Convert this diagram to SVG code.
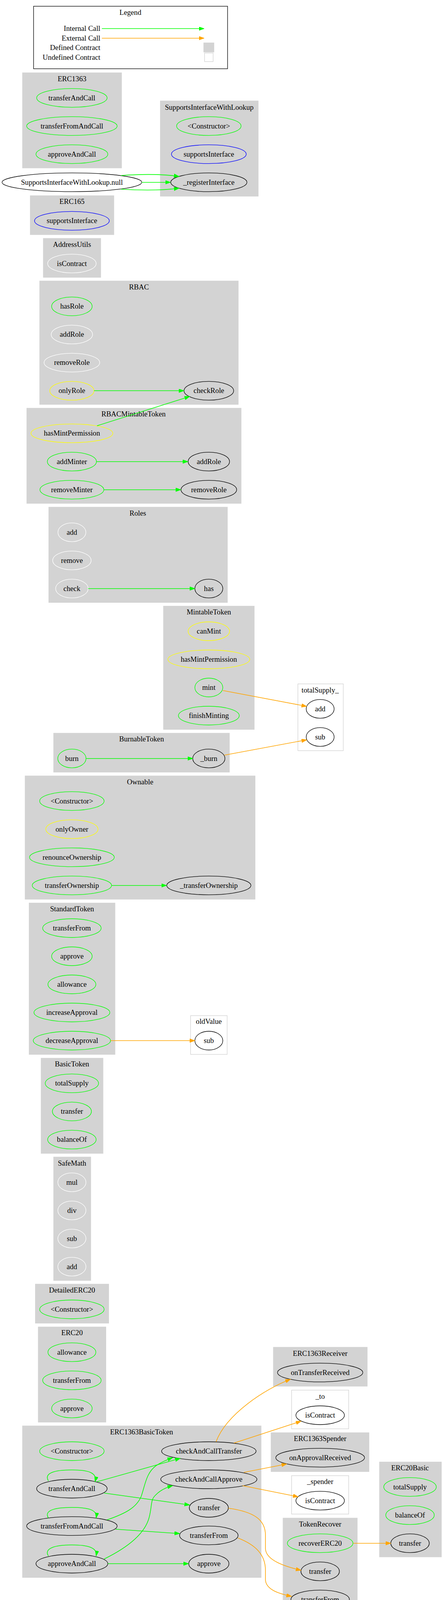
<svg xmlns="http://www.w3.org/2000/svg" width="1140" height="4615" viewBox="0 0 1140 4615">
<style>
text{font-family:"Liberation Serif","Times New Roman",serif;font-size:18.67px;text-anchor:middle;fill:#000}
.lt{text-anchor:end}
.cl{fill:#d3d3d3;stroke:#d3d3d3;stroke-width:1.33}
.ud{fill:#fff;stroke:#d3d3d3;stroke-width:1.33}
ellipse{fill:none;stroke-width:1.33}
.g{stroke:#00ff00}.y{stroke:#ffff00}.b{stroke:#0000ff}.w{stroke:#fff}.k{stroke:#000}
.eg{fill:none;stroke:#00ff00;stroke-width:1.6;marker-end:url(#ag)}
.eo{fill:none;stroke:#ffa500;stroke-width:1.6;marker-end:url(#ao)}
</style>
<defs>
<marker id="ag" markerUnits="userSpaceOnUse" viewBox="0 0 14 10" markerWidth="14" markerHeight="10" refX="13.3" refY="4.67" orient="auto"><path d="M0,0 L13.3,4.67 L0,9.33 z" fill="#00ff00" stroke="#00ff00"/></marker>
<marker id="ao" markerUnits="userSpaceOnUse" viewBox="0 0 14 10" markerWidth="14" markerHeight="10" refX="13.3" refY="4.67" orient="auto"><path d="M0,0 L13.3,4.67 L0,9.33 z" fill="#ffa500" stroke="#ffa500"/></marker>
</defs>
<rect width="1140" height="4615" fill="#fff"/>

<g id="legend">
<rect x="86" y="16" width="497" height="160" fill="#fff" stroke="#000" stroke-width="1.33"/>
<text x="334" y="37.7">Legend</text>
<text class="lt" x="257" y="79.3">Internal Call</text>
<text class="lt" x="257" y="103.7">External Call</text>
<text class="lt" x="257" y="128.3">Defined Contract</text>
<text class="lt" x="257" y="152.7">Undefined Contract</text>
<line x1="261" y1="73.3" x2="523" y2="73.3" class="eg"/>
<line x1="261" y1="97.7" x2="523" y2="97.7" class="eo"/>
<rect x="522" y="109.7" width="26" height="23.6" class="cl"/>
<rect x="524" y="135.7" width="22" height="22" class="ud"/>
</g>

<g id="cluster_ERC1363">
<rect x="57.7" y="186.3" width="253.7" height="243.7" class="cl"/>
<text x="184.5" y="207.7">ERC1363</text>
<g id="ERC1363_transferAndCall"><ellipse cx="184.2" cy="250.7" rx="90.3" ry="24" class="g"/><text x="184.2" y="256.7">transferAndCall</text></g>
<g id="ERC1363_transferFromAndCall"><ellipse cx="184.2" cy="322.7" rx="115.9" ry="24" class="g"/><text x="184.2" y="328.7">transferFromAndCall</text></g>
<g id="ERC1363_approveAndCall"><ellipse cx="184.2" cy="394.7" rx="92" ry="24" class="g"/><text x="184.2" y="400.7">approveAndCall</text></g>
</g>

<g id="cluster_SupportsInterfaceWithLookup">
<rect x="410.8" y="258.3" width="250.7" height="244" class="cl"/>
<text x="536" y="281">SupportsInterfaceWithLookup</text>
<g id="SupportsInterfaceWithLookup_Constructor"><ellipse cx="535" cy="322.7" rx="82.6" ry="24" class="g"/><text x="535" y="328.7">&lt;Constructor&gt;</text></g>
<g id="SupportsInterfaceWithLookup_supportsInterface"><ellipse cx="535" cy="394.7" rx="95.8" ry="24" class="b"/><text x="535" y="400.7">supportsInterface</text></g>
<g id="SupportsInterfaceWithLookup_registerInterface"><ellipse cx="535" cy="466.7" rx="97.6" ry="24" class="k"/><text x="535" y="472.7">_registerInterface</text></g>
</g>

<g id="SupportsInterfaceWithLookup_null"><ellipse cx="184.2" cy="466.7" rx="179" ry="24" class="k"/><text x="184.2" y="472.7">SupportsInterfaceWithLookup.null</text></g>

<g id="cluster_ERC165">
<rect x="77.5" y="501" width="214.2" height="99.7" class="cl"/>
<text x="184.5" y="522">ERC165</text>
<g id="ERC165_supportsInterface"><ellipse cx="184.2" cy="565.3" rx="95.8" ry="24" class="b"/><text x="184.2" y="571.3">supportsInterface</text></g>
</g>

<g id="cluster_AddressUtils">
<rect x="111" y="610.3" width="147" height="99.7" class="cl"/>
<text x="184.5" y="632.3">AddressUtils</text>
<g id="AddressUtils_isContract"><ellipse cx="184.2" cy="674.7" rx="62.1" ry="24" class="w"/><text x="184.2" y="680.7">isContract</text></g>
</g>

<g id="cluster_RBAC">
<rect x="101.6" y="719.3" width="508.8" height="316" class="cl"/>
<text x="356" y="741">RBAC</text>
<g id="RBAC_hasRole"><ellipse cx="184.2" cy="784.3" rx="51.9" ry="24" class="g"/><text x="184.2" y="790.3">hasRole</text></g>
<g id="RBAC_addRole"><ellipse cx="184.2" cy="856.3" rx="53" ry="24" class="w"/><text x="184.2" y="862.3">addRole</text></g>
<g id="RBAC_removeRole"><ellipse cx="184.2" cy="928.3" rx="71.3" ry="24" class="w"/><text x="184.2" y="934.3">removeRole</text></g>
<g id="RBAC_onlyRole"><ellipse cx="184.2" cy="1000.3" rx="56.7" ry="24" class="y"/><text x="184.2" y="1006.3">onlyRole</text></g>
<g id="RBAC_checkRole"><ellipse cx="535" cy="1000.3" rx="63.6" ry="24" class="k"/><text x="535" y="1006.3">checkRole</text></g>
</g>

<g id="cluster_RBACMintableToken">
<rect x="68.7" y="1045" width="549" height="243.7" class="cl"/>
<text x="342" y="1066">RBACMintableToken</text>
<g id="RBACMintableToken_hasMintPermission"><ellipse cx="184.2" cy="1109.3" rx="104.9" ry="24" class="y"/><text x="184.2" y="1115.3">hasMintPermission</text></g>
<g id="RBACMintableToken_addMinter"><ellipse cx="184.2" cy="1181.7" rx="62.9" ry="24" class="g"/><text x="184.2" y="1187.7">addMinter</text></g>
<g id="RBACMintableToken_addRole"><ellipse cx="535" cy="1181.7" rx="53" ry="24" class="k"/><text x="535" y="1187.7">addRole</text></g>
<g id="RBACMintableToken_removeMinter"><ellipse cx="184.2" cy="1253.7" rx="81.9" ry="24" class="g"/><text x="184.2" y="1259.7">removeMinter</text></g>
<g id="RBACMintableToken_removeRole"><ellipse cx="535" cy="1253.7" rx="71.3" ry="24" class="k"/><text x="535" y="1259.7">removeRole</text></g>
</g>

<g id="cluster_Roles">
<rect x="125" y="1298.3" width="457.6" height="244" class="cl"/>
<text x="353" y="1320.3">Roles</text>
<g id="Roles_add"><ellipse cx="184.2" cy="1362.7" rx="35.8" ry="24" class="w"/><text x="184.2" y="1368.7">add</text></g>
<g id="Roles_remove"><ellipse cx="184.2" cy="1434.7" rx="49.3" ry="24" class="w"/><text x="184.2" y="1440.7">remove</text></g>
<g id="Roles_check"><ellipse cx="184.2" cy="1506.7" rx="41.7" ry="24" class="w"/><text x="184.2" y="1512.7">check</text></g>
<g id="Roles_has"><ellipse cx="535" cy="1506.7" rx="35.8" ry="24" class="k"/><text x="535" y="1512.7">has</text></g>
</g>

<g id="cluster_MintableToken">
<rect x="418.9" y="1551.7" width="232.4" height="315.6" class="cl"/>
<text x="535" y="1573.3">MintableToken</text>
<g id="MintableToken_canMint"><ellipse cx="535" cy="1616" rx="53" ry="24" class="y"/><text x="535" y="1622">canMint</text></g>
<g id="MintableToken_hasMintPermission"><ellipse cx="535" cy="1688" rx="104.9" ry="24" class="y"/><text x="535" y="1694">hasMintPermission</text></g>
<g id="MintableToken_mint"><ellipse cx="535" cy="1760" rx="35.8" ry="24" class="g"/><text x="535" y="1766">mint</text></g>
<g id="MintableToken_finishMinting"><ellipse cx="535" cy="1832" rx="77.9" ry="24" class="g"/><text x="535" y="1838">finishMinting</text></g>
</g>

<g id="cluster_totalSupply_">
<rect x="763.2" y="1750.7" width="116.2" height="171" class="ud"/>
<text x="820.2" y="1773.3">totalSupply_</text>
<g id="totalSupply__add"><ellipse cx="820.2" cy="1814.7" rx="35.8" ry="24" class="k"/><text x="820.2" y="1820.7">add</text></g>
<g id="totalSupply__sub"><ellipse cx="820.2" cy="1886.7" rx="35.8" ry="24" class="k"/><text x="820.2" y="1892.7">sub</text></g>
</g>

<g id="cluster_BurnableToken">
<rect x="137.4" y="1877" width="450.3" height="99.7" class="cl"/>
<text x="362.6" y="1898.3">BurnableToken</text>
<g id="BurnableToken_burn"><ellipse cx="184.2" cy="1941.7" rx="36.2" ry="24" class="g"/><text x="184.2" y="1947.7">burn</text></g>
<g id="BurnableToken__burn"><ellipse cx="535" cy="1941.7" rx="41.3" ry="24" class="k"/><text x="535" y="1947.7">_burn</text></g>
</g>

<g id="cluster_Ownable">
<rect x="64.3" y="1986.3" width="589.2" height="315.7" class="cl"/>
<text x="359" y="2008.3">Ownable</text>
<g id="Ownable_Constructor"><ellipse cx="184.2" cy="2050.7" rx="82.6" ry="24" class="g"/><text x="184.2" y="2056.7">&lt;Constructor&gt;</text></g>
<g id="Ownable_onlyOwner"><ellipse cx="184.2" cy="2122.7" rx="66.9" ry="24" class="y"/><text x="184.2" y="2128.7">onlyOwner</text></g>
<g id="Ownable_renounceOwnership"><ellipse cx="184.2" cy="2194.7" rx="108.6" ry="24" class="g"/><text x="184.2" y="2200.7">renounceOwnership</text></g>
<g id="Ownable_transferOwnership"><ellipse cx="184.2" cy="2266.7" rx="101.6" ry="24" class="g"/><text x="184.2" y="2272.7">transferOwnership</text></g>
<g id="Ownable__transferOwnership"><ellipse cx="535" cy="2266.7" rx="107.8" ry="24" class="k"/><text x="535" y="2272.7">_transferOwnership</text></g>
</g>

<g id="cluster_StandardToken">
<rect x="74.6" y="2311.7" width="220" height="387.6" class="cl"/>
<text x="184.5" y="2333.3">StandardToken</text>
<g id="StandardToken_transferFrom"><ellipse cx="184.2" cy="2376" rx="74.9" ry="24" class="g"/><text x="184.2" y="2382">transferFrom</text></g>
<g id="StandardToken_approve"><ellipse cx="184.2" cy="2448" rx="51.9" ry="24" class="g"/><text x="184.2" y="2454">approve</text></g>
<g id="StandardToken_allowance"><ellipse cx="184.2" cy="2520" rx="61.4" ry="24" class="g"/><text x="184.2" y="2526">allowance</text></g>
<g id="StandardToken_increaseApproval"><ellipse cx="184.2" cy="2592" rx="97.2" ry="24" class="g"/><text x="184.2" y="2598">increaseApproval</text></g>
<g id="StandardToken_decreaseApproval"><ellipse cx="184.2" cy="2664" rx="99" ry="24" class="g"/><text x="184.2" y="2670">decreaseApproval</text></g>
</g>

<g id="cluster_oldValue">
<rect x="488.3" y="2600" width="93.6" height="99.3" class="ud"/>
<text x="535" y="2621">oldValue</text>
<g id="oldValue_sub"><ellipse cx="535" cy="2664" rx="35.8" ry="24" class="k"/><text x="535" y="2670">sub</text></g>
</g>

<g id="cluster_BasicToken">
<rect x="105.3" y="2709" width="158.6" height="243.7" class="cl"/>
<text x="184.5" y="2730.3">BasicToken</text>
<g id="BasicToken_totalSupply"><ellipse cx="184.2" cy="2773.3" rx="68.3" ry="24" class="g"/><text x="184.2" y="2779.3">totalSupply</text></g>
<g id="BasicToken_transfer"><ellipse cx="184.2" cy="2845.3" rx="50" ry="24" class="g"/><text x="184.2" y="2851.3">transfer</text></g>
<g id="BasicToken_balanceOf"><ellipse cx="184.2" cy="2917.3" rx="62.1" ry="24" class="g"/><text x="184.2" y="2923.3">balanceOf</text></g>
</g>

<g id="cluster_SafeMath">
<rect x="137.4" y="2962" width="95.1" height="316" class="cl"/>
<text x="184.5" y="2983.7">SafeMath</text>
<g id="SafeMath_mul"><ellipse cx="184.2" cy="3026.7" rx="36" ry="24" class="w"/><text x="184.2" y="3032.7">mul</text></g>
<g id="SafeMath_div"><ellipse cx="184.2" cy="3098.7" rx="36" ry="24" class="w"/><text x="184.2" y="3104.7">div</text></g>
<g id="SafeMath_sub"><ellipse cx="184.2" cy="3170.7" rx="36" ry="24" class="w"/><text x="184.2" y="3176.7">sub</text></g>
<g id="SafeMath_add"><ellipse cx="184.2" cy="3242.7" rx="36" ry="24" class="w"/><text x="184.2" y="3248.7">add</text></g>
</g>

<g id="cluster_DetailedERC20">
<rect x="90.6" y="3287.3" width="187.9" height="100" class="cl"/>
<text x="184.5" y="3308.7">DetailedERC20</text>
<g id="DetailedERC20_Constructor"><ellipse cx="184.2" cy="3352" rx="82.6" ry="24" class="g"/><text x="184.2" y="3358">&lt;Constructor&gt;</text></g>
</g>

<g id="cluster_ERC20">
<rect x="98" y="3397" width="173.2" height="243.7" class="cl"/>
<text x="184.5" y="3417.7">ERC20</text>
<g id="ERC20_allowance"><ellipse cx="184.2" cy="3461.7" rx="61.4" ry="24" class="g"/><text x="184.2" y="3467.7">allowance</text></g>
<g id="ERC20_transferFrom"><ellipse cx="184.2" cy="3533.7" rx="74.9" ry="24" class="g"/><text x="184.2" y="3539.7">transferFrom</text></g>
<g id="ERC20_approve"><ellipse cx="184.2" cy="3605.7" rx="51.9" ry="24" class="g"/><text x="184.2" y="3611.7">approve</text></g>
</g>

<g id="cluster_ERC1363Receiver">
<rect x="700.3" y="3449" width="240.5" height="99.7" class="cl"/>
<text x="820.2" y="3471">ERC1363Receiver</text>
<g id="ERC1363Receiver_onTransferReceived"><ellipse cx="820.2" cy="3513.7" rx="109.3" ry="24" class="k"/><text x="820.2" y="3519.7">onTransferReceived</text></g>
</g>

<g id="cluster__to">
<rect x="747" y="3558.7" width="146.3" height="99" class="ud"/>
<text x="820.2" y="3581">_to</text>
<g id="_to_isContract"><ellipse cx="820.2" cy="3623" rx="62.1" ry="24" class="k"/><text x="820.2" y="3629">isContract</text></g>
</g>

<g id="cluster_ERC1363BasicToken">
<rect x="57.7" y="3650.3" width="611.2" height="388" class="cl"/>
<text x="362.6" y="3672.3">ERC1363BasicToken</text>
<g id="ERC1363BasicToken_Constructor"><ellipse cx="184.2" cy="3715" rx="82.6" ry="24" class="g"/><text x="184.2" y="3721">&lt;Constructor&gt;</text></g>
<g id="ERC1363BasicToken_checkAndCallTransfer"><ellipse cx="535" cy="3715" rx="121" ry="24" class="k"/><text x="535" y="3721">checkAndCallTransfer</text></g>
<g id="ERC1363BasicToken_transferAndCall"><ellipse cx="184.2" cy="3811" rx="90.3" ry="24" class="k"/><text x="184.2" y="3817">transferAndCall</text></g>
<g id="ERC1363BasicToken_checkAndCallApprove"><ellipse cx="535" cy="3787" rx="123.2" ry="24" class="k"/><text x="535" y="3793">checkAndCallApprove</text></g>
<g id="ERC1363BasicToken_transfer"><ellipse cx="535" cy="3860" rx="50" ry="24" class="k"/><text x="535" y="3866">transfer</text></g>
<g id="ERC1363BasicToken_transferFromAndCall"><ellipse cx="184.2" cy="3906.7" rx="115.9" ry="24" class="k"/><text x="184.2" y="3912.7">transferFromAndCall</text></g>
<g id="ERC1363BasicToken_transferFrom"><ellipse cx="535" cy="3930.7" rx="74.9" ry="24" class="k"/><text x="535" y="3936.7">transferFrom</text></g>
<g id="ERC1363BasicToken_approveAndCall"><ellipse cx="184.2" cy="4003" rx="92" ry="24" class="k"/><text x="184.2" y="4009">approveAndCall</text></g>
<g id="ERC1363BasicToken_approve"><ellipse cx="535" cy="4003" rx="51.5" ry="24" class="k"/><text x="535" y="4009">approve</text></g>
</g>

<g id="cluster_ERC1363Spender">
<rect x="694.4" y="3667.7" width="250.8" height="99.6" class="cl"/>
<text x="820.2" y="3689.3">ERC1363Spender</text>
<g id="ERC1363Spender_onApprovalReceived"><ellipse cx="820.2" cy="3731.7" rx="113.7" ry="24" class="k"/><text x="820.2" y="3737.7">onApprovalReceived</text></g>
</g>

<g id="cluster__spender">
<rect x="747" y="3777.7" width="146.3" height="98.3" class="ud"/>
<text x="820.2" y="3799.3">_spender</text>
<g id="_spender_isContract"><ellipse cx="820.2" cy="3841.7" rx="62.1" ry="24" class="k"/><text x="820.2" y="3847.7">isContract</text></g>
</g>

<g id="cluster_ERC20Basic">
<rect x="972.2" y="3742.7" width="158.6" height="243" class="cl"/>
<text x="1050.4" y="3764.3">ERC20Basic</text>
<g id="ERC20Basic_totalSupply"><ellipse cx="1050.4" cy="3806.7" rx="67.3" ry="24" class="g"/><text x="1050.4" y="3812.7">totalSupply</text></g>
<g id="ERC20Basic_balanceOf"><ellipse cx="1050.4" cy="3878.7" rx="62.1" ry="24" class="g"/><text x="1050.4" y="3884.7">balanceOf</text></g>
<g id="ERC20Basic_transfer"><ellipse cx="1050.4" cy="3950.7" rx="49.3" ry="24" class="k"/><text x="1050.4" y="3956.7">transfer</text></g>
</g>

<g id="cluster_TokenRecover">
<rect x="725.1" y="3886.3" width="190.1" height="315.4" class="cl"/>
<text x="820.2" y="3908.3">TokenRecover</text>
<g id="TokenRecover_recoverERC20"><ellipse cx="820.2" cy="3950.7" rx="84" ry="24" class="g"/><text x="820.2" y="3956.7">recoverERC20</text></g>
<g id="TokenRecover_transfer"><ellipse cx="820.2" cy="4022.7" rx="49.3" ry="24" class="k"/><text x="820.2" y="4028.7">transfer</text></g>
<g id="TokenRecover_transferFrom"><ellipse cx="820.2" cy="4094.7" rx="74.9" ry="24" class="k"/><text x="820.2" y="4100.7">transferFrom</text></g>
<g id="TokenRecover_mint"><ellipse cx="820.2" cy="4166.7" rx="35.8" ry="24" class="k"/><text x="820.2" y="4172.7">mint</text></g>
</g>

<g id="cluster_FidelityHouseToken">
<rect x="440.8" y="4211.7" width="486.8" height="387.3" class="cl"/>
<text x="683.5" y="4233.3">FidelityHouseToken</text>
<g id="FidelityHouseToken_mintAndLock"><ellipse cx="535" cy="4276" rx="80.4" ry="24" class="g"/><text x="535" y="4282">mintAndLock</text></g>
<g id="FidelityHouseToken_Constructor"><ellipse cx="535" cy="4348" rx="82.6" ry="24" class="g"/><text x="535" y="4354">&lt;Constructor&gt;</text></g>
<g id="FidelityHouseToken_canTransfer"><ellipse cx="535" cy="4420" rx="69.8" ry="24" class="y"/><text x="535" y="4426">canTransfer</text></g>
<g id="FidelityHouseToken_lockedBalanceOf"><ellipse cx="820.2" cy="4420" rx="95.8" ry="24" class="k"/><text x="820.2" y="4426">lockedBalanceOf</text></g>
<g id="FidelityHouseToken_transfer"><ellipse cx="535" cy="4492" rx="50" ry="24" class="g"/><text x="535" y="4498">transfer</text></g>
<g id="FidelityHouseToken_transferFrom"><ellipse cx="535" cy="4564" rx="74.9" ry="24" class="g"/><text x="535" y="4570">transferFrom</text></g>
</g>

<g id="connectors">
<path class="eg" d="M310,449.3 C370,445 420,446 459,451.7"/>
<path class="eg" d="M363,466.7 L437,466.7"/>
<path class="eg" d="M310,484.3 C370,488 420,487 459,481.7"/>
<path class="eg" d="M241,1000.3 L471.5,1000.3"/>
<path class="eg" d="M248.5,1090 L486,1015"/>
<path class="eg" d="M247,1181.7 L481.7,1181.7"/>
<path class="eg" d="M266,1253.7 L463.5,1253.7"/>
<path class="eg" d="M225.9,1506.7 L499.3,1506.7"/>
<path class="eo" d="M571,1767.7 L785.8,1808.3"/>
<path class="eg" d="M220.8,1941.7 L494.2,1941.7"/>
<path class="eo" d="M574.6,1933.3 L785.8,1894"/>
<path class="eg" d="M285.8,2266.7 L426.9,2266.7"/>
<path class="eo" d="M283.6,2664 L499.3,2664"/>
<path class="eo" d="M553.4,3691 C580,3620 680,3555 744.2,3531"/>
<path class="eo" d="M599.4,3694.3 L771.2,3638.3"/>
<path class="eo" d="M625,3769.3 L734.6,3747.7"/>
<path class="eo" d="M621.3,3803.3 L763.9,3831.7"/>
<path class="eg" d="M124,3791 C112,3771 140,3763 184,3763 C226,3763 250,3770 243.4,3793.3"/>
<path class="eg" d="M248.5,3793.3 L462,3733.3"/>
<path class="eg" d="M266.8,3822.3 L486,3852.7"/>
<path class="eg" d="M124,3886 C112,3867 140,3859 184,3859 C226,3859 250,3865 246.3,3886"/>
<path class="eg" d="M274,3891 C320,3875 350,3860 362,3830 C372,3800 375,3770 400,3752 C415,3742 430,3736 442.3,3731.7"/>
<path class="eg" d="M296,3914.7 L460.5,3926"/>
<path class="eg" d="M124,3983.3 C112,3964 140,3955 184,3955 C226,3955 250,3962 246.3,3983.3"/>
<path class="eg" d="M266.8,3991 C320,3965 370,3930 382,3885 C390,3855 385,3840 398,3828 C410,3815 425,3808 442.3,3803.3"/>
<path class="eg" d="M276.3,4003 L483.2,4003"/>
<path class="eo" d="M584.8,3861 C650,3870 680,3890 680,3930 L680,3965 C682,3995 730,4010 771.2,4020"/>
<path class="eo" d="M609.6,3937.3 C655,3955 680,3980 680,4020 L680,4045 C682,4070 715,4080 747,4086.7"/>
<path class="eo" d="M905,3950.7 L1001.5,3950.7"/>
<path class="eo" d="M579.7,4256 L787.3,4176"/>
<path class="eg" d="M604.5,4420 L724.4,4420"/>
</g>
</svg>
